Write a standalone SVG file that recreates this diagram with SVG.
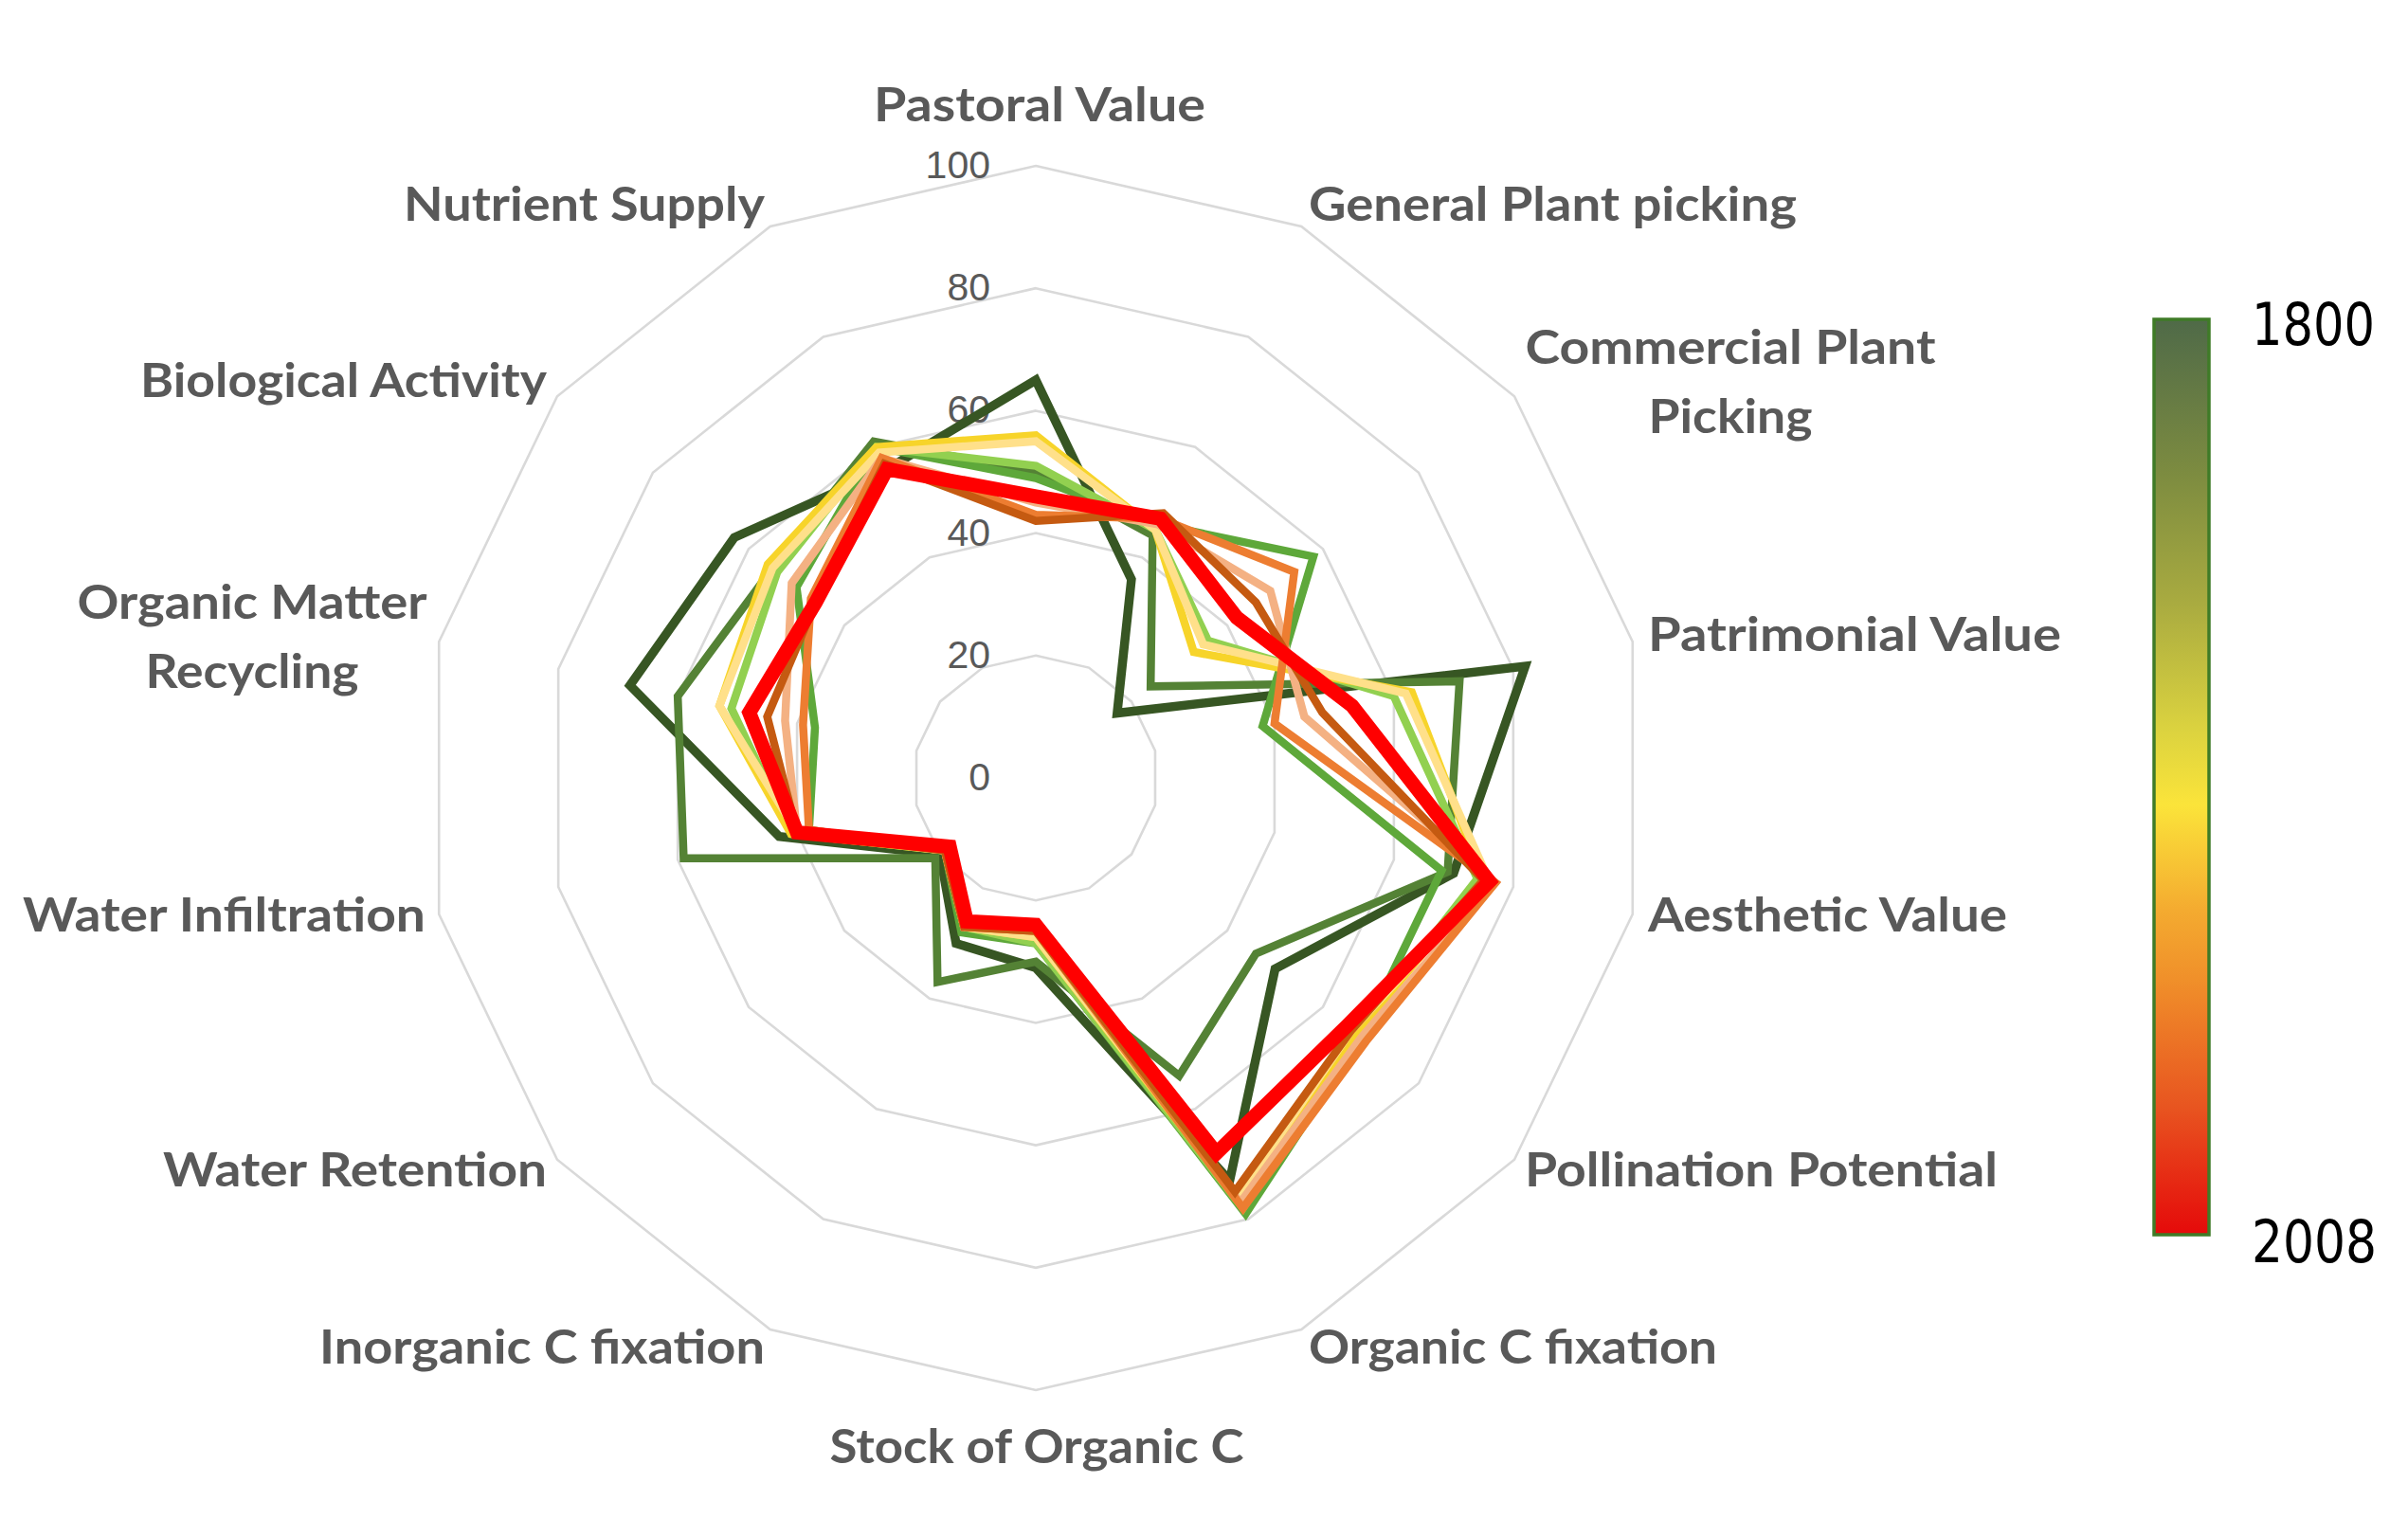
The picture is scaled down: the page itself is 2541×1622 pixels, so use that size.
<svg xmlns="http://www.w3.org/2000/svg" xmlns:xlink="http://www.w3.org/1999/xlink" width="2541" height="1622" viewBox="0 0 2541 1622">
<style>
.lbl{font-family:Lato,"Liberation Sans",sans-serif;font-weight:700;font-size:49px;fill:#595959}
.tick{font-family:"Liberation Sans",Arial,sans-serif;font-size:41px;fill:#595959;text-anchor:end}
.ring{fill:none;stroke:#d9d9d9;stroke-width:2.6}
.s{fill:none;stroke-width:8.5;stroke-linejoin:miter;stroke-miterlimit:3}
.leg{font-family:"DejaVu Sans",Tahoma,sans-serif;font-size:62px;fill:#000}
</style>
<defs>
<polygon id="ring" vector-effect="non-scaling-stroke" points="0,-100 43.39,-90.10 78.18,-62.35 97.49,-22.25 97.49,22.25 78.18,62.35 43.39,90.10 0,100 -43.39,90.10 -78.18,62.35 -97.49,22.25 -97.49,-22.25 -78.18,-62.35 -43.39,-90.10"/>
<linearGradient id="bar" x1="0" y1="0" x2="0" y2="1">
<stop offset="0" stop-color="#4f6a48"/>
<stop offset="0.17" stop-color="#7d8c40"/>
<stop offset="0.31" stop-color="#a9ab40"/>
<stop offset="0.45" stop-color="#dcd33f"/>
<stop offset="0.53" stop-color="#fbe43a"/>
<stop offset="0.645" stop-color="#f4ab30"/>
<stop offset="0.72" stop-color="#f0902a"/>
<stop offset="0.86" stop-color="#e85520"/>
<stop offset="1" stop-color="#e50a0a"/>
</linearGradient>
</defs>
<rect width="2541" height="1622" fill="#fff"/>
<g id="grid" transform="translate(1093,821) scale(6.46)">
<use xlink:href="#ring" class="ring" transform="scale(0.2)"/>
<use xlink:href="#ring" class="ring" transform="scale(0.4)"/>
<use xlink:href="#ring" class="ring" transform="scale(0.6)"/>
<use xlink:href="#ring" class="ring" transform="scale(0.8)"/>
<use xlink:href="#ring" class="ring"/>
</g>
<g id="ticks">
<text class="tick" x="1045" y="188">100</text>
<text class="tick" x="1045" y="317">80</text>
<text class="tick" x="1045" y="446">60</text>
<text class="tick" x="1045" y="576">40</text>
<text class="tick" x="1045" y="705">20</text>
<text class="tick" x="1045" y="834">0</text>
</g>
<g id="connectors" transform="translate(1093,821) scale(6.46)">
<polygon id="s1800" class="s" vector-effect="non-scaling-stroke" stroke="#375623" style="stroke-width:9.5" points="0,-65 15.62,-32.44 13.29,-10.60 79.94,-18.25 68.24,15.58 39.09,31.18 31.67,65.77 0,31 -13.02,27.03 -15.64,12.47 -41.92,9.57 -66.29,-15.13 -49.25,-39.28 -24.30,-50.46"/>
<polygon id="s2" class="s" vector-effect="non-scaling-stroke" stroke="#548235" points="0,-50 19.09,-39.64 18.76,-14.96 69.22,-15.80 67.27,15.35 35.96,28.68 23.43,48.65 0,30 -16.05,33.34 -16.42,13.09 -57.52,13.13 -58.49,-13.35 -43.00,-34.29 -26.47,-54.96"/>
<polygon id="s3" class="s" vector-effect="non-scaling-stroke" stroke="#5ea83a" points="0,-49 19.96,-41.45 45.34,-36.16 37.05,-8.46 66.29,15.13 53.16,42.40 34.28,71.18 0,27 -12.15,25.23 -14.85,11.85 -37.05,8.46 -36.07,-8.23 -39.09,-31.18 -26.03,-54.06"/>
<polygon id="s4" class="s" vector-effect="non-scaling-stroke" stroke="#92d050" points="0,-51 19.53,-40.55 28.14,-22.45 58.49,-13.35 72.14,16.47 52.38,41.77 33.84,70.28 0,27 -11.72,24.33 -14.85,11.85 -39.97,9.12 -49.72,-11.35 -42.22,-33.67 -26.03,-54.06"/>
<polygon id="s5" class="s" vector-effect="non-scaling-stroke" stroke="#f7d42a" points="0,-56 19.53,-40.55 25.80,-20.58 61.42,-14.02 73.12,16.69 52.38,41.77 33.41,69.38 0,26 -11.72,24.33 -14.85,11.85 -39.97,9.12 -51.67,-11.79 -43.78,-34.92 -26.03,-54.06"/>
<polygon id="s6" class="s" vector-effect="non-scaling-stroke" stroke="#ffe08a" points="0,-55 19.53,-40.55 27.36,-21.82 60.44,-13.80 74.09,16.91 51.60,41.15 32.98,68.48 0,26 -11.72,24.33 -14.85,11.85 -39.00,8.90 -51.67,-11.79 -43.00,-34.29 -25.60,-53.16"/>
<polygon id="s7" class="s" vector-effect="non-scaling-stroke" stroke="#f4b183" points="0,-45 19.96,-41.45 38.31,-30.55 43.87,-10.01 75.07,17.13 53.16,42.40 33.41,69.38 0,25 -11.72,24.33 -14.85,11.85 -39.00,8.90 -40.95,-9.35 -39.87,-31.80 -25.17,-52.26"/>
<polygon id="s8" class="s" vector-effect="non-scaling-stroke" stroke="#ed7d31" points="0,-43 20.39,-42.35 42.22,-33.67 39.00,-8.90 75.07,17.13 53.94,43.02 33.84,70.28 0,25 -11.72,24.33 -14.85,11.85 -37.05,8.46 -38.02,-8.68 -36.74,-29.30 -25.17,-52.26"/>
<polygon id="s9" class="s" vector-effect="non-scaling-stroke" stroke="#c55a11" points="0,-42 20.83,-43.25 35.96,-28.68 46.80,-10.68 73.12,16.69 51.60,41.15 32.54,67.58 0,25 -11.72,24.33 -14.85,11.85 -39.00,8.90 -43.87,-10.01 -35.96,-28.68 -24.73,-51.36"/>
<polygon id="s2008" class="s" vector-effect="non-scaling-stroke" stroke="#ff0000" style="stroke-width:15" points="0,-46 20.39,-42.35 32.84,-26.19 51.67,-11.79 74.09,16.91 50.82,40.53 29.51,61.27 0,24 -11.28,23.43 -14.07,11.22 -39.00,8.90 -46.80,-10.68 -35.96,-28.68 -24.30,-50.46"/>
</g>
<g id="axis-labels">
<text id="l0" class="lbl" x="1097" y="128" text-anchor="middle" textLength="350" lengthAdjust="spacingAndGlyphs">Pastoral Value</text>
<text id="l1" class="lbl" x="1381" y="233" textLength="515" lengthAdjust="spacingAndGlyphs">General Plant picking</text>
<g id="l2"><text class="lbl" x="1826" y="384" text-anchor="middle" textLength="433" lengthAdjust="spacingAndGlyphs">Commercial Plant</text>
<text class="lbl" x="1826" y="457" text-anchor="middle" textLength="173" lengthAdjust="spacingAndGlyphs">Picking</text></g>
<text id="l3" class="lbl" x="1739" y="687" textLength="436" lengthAdjust="spacingAndGlyphs">Patrimonial Value</text>
<text id="l4" class="lbl" x="1739" y="983" textLength="379" lengthAdjust="spacingAndGlyphs">Aesthetic Value</text>
<text id="l5" class="lbl" x="1609" y="1252" textLength="499" lengthAdjust="spacingAndGlyphs">Pollination Potential</text>
<text id="l6" class="lbl" x="1381" y="1439" textLength="431" lengthAdjust="spacingAndGlyphs">Organic C fixation</text>
<text id="l7" class="lbl" x="1094" y="1544" text-anchor="middle" textLength="437" lengthAdjust="spacingAndGlyphs">Stock of Organic C</text>
<text id="l8" class="lbl" x="807" y="1439" text-anchor="end" textLength="470" lengthAdjust="spacingAndGlyphs">Inorganic C fixation</text>
<text id="l9" class="lbl" x="577" y="1252" text-anchor="end" textLength="405" lengthAdjust="spacingAndGlyphs">Water Retention</text>
<text id="l10" class="lbl" x="449" y="983" text-anchor="end" textLength="425" lengthAdjust="spacingAndGlyphs">Water Infiltration</text>
<g id="l11"><text class="lbl" x="266" y="653" text-anchor="middle" textLength="369" lengthAdjust="spacingAndGlyphs">Organic Matter</text>
<text class="lbl" x="266" y="726" text-anchor="middle" textLength="225" lengthAdjust="spacingAndGlyphs">Recycling</text></g>
<text id="l12" class="lbl" x="577" y="419" text-anchor="end" textLength="429" lengthAdjust="spacingAndGlyphs">Biological Activity</text>
<text id="l13" class="lbl" x="807" y="233" text-anchor="end" textLength="381" lengthAdjust="spacingAndGlyphs">Nutrient Supply</text>
</g>
<g id="legend">
<rect x="2273" y="337" width="58" height="966" fill="url(#bar)" stroke="#3f7b27" stroke-width="3.5"/>
<text class="leg" x="2376" y="364" textLength="130" lengthAdjust="spacingAndGlyphs">1800</text>
<text class="leg" x="2376" y="1332" textLength="132" lengthAdjust="spacingAndGlyphs">2008</text>
</g>
</svg>
